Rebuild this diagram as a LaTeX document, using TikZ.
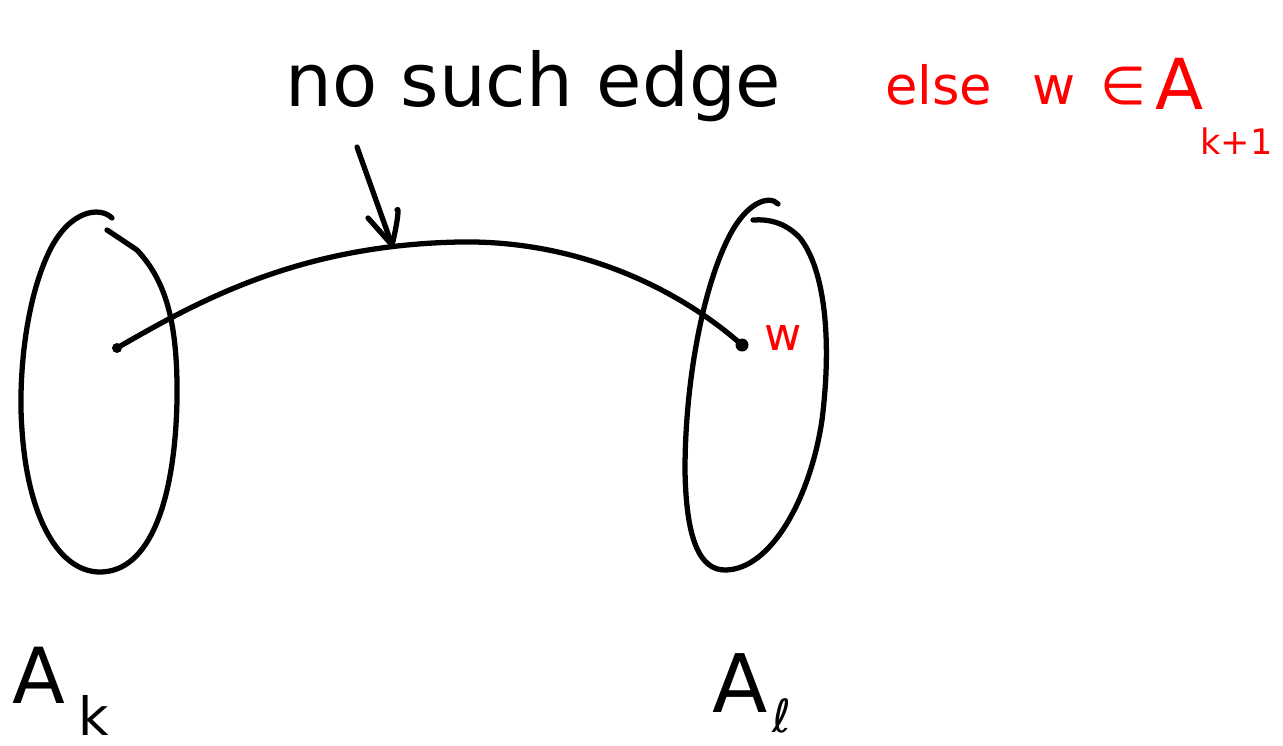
\documentclass[tikz,border=0pt]{standalone}
\usepackage{fontspec}
\setmainfont{DejaVu Sans}
\begin{document}
\begin{tikzpicture}[x=0.02cm,y=-0.02cm, line cap=round, line join=round,
  ink/.style={line width=3pt, draw=black},
  redlbl/.style={text=red, inner sep=0pt, font=\fontsize{30}{30}\selectfont},
  blklbl/.style={text=black, inner sep=0pt}]
\useasboundingbox (0,0) rectangle (1283,746);
% left set A_k
\draw[ink] (112,218) .. controls (100,206) and (70,210) .. (50,250)
  .. controls (25,300) and (18,380) .. (22,430)
  .. controls (28,520) and (60,572) .. (100,572)
  .. controls (150,572) and (175,500) .. (177,400)
  .. controls (178,320) and (165,280) .. (137,250)
  -- (107,230);
% right set A_l
\draw[ink] (778,204) .. controls (770,195) and (745,200) .. (725,245)
  .. controls (700,300) and (685,390) .. (685,470)
  .. controls (686,540) and (700,570) .. (725,570)
  .. controls (770,570) and (810,500) .. (822,420)
  .. controls (832,340) and (825,270) .. (800,238)
  .. controls (785,222) and (768,219) .. (753,220);
% vertices
\coordinate (u) at (117,348);
\coordinate (w) at (742,345);
\fill (u) circle (5);
\fill (w) circle (6.5);
% edge
\draw[ink] (u) .. controls (200,300) and (300,245) .. (460,242)
  .. controls (580,240) and (680,290) .. (w);
% arrow
\coordinate (tail) at (357,147);
\coordinate (head) at (392,245);
\draw[ink] (tail) -- (head);
\draw[ink] (368,218) -- (head) .. controls (396,230) and (400,205) .. (397,210);
% labels
\node[blklbl, anchor=base west, font=\fontsize{42}{42}\selectfont] (nse) at (285,107) {no such edge};
\node[redlbl, anchor=base west] (else) at (885,105) {else};
\node[redlbl, anchor=base west] (wa) at (1032,105) {w};
\node[redlbl, anchor=base west] (in) at (1100,105) {∈};
\node[redlbl, anchor=base west, font=\fontsize{40}{40}\selectfont] (A) at (1155,110) {A};
\node[redlbl, anchor=base west, font=\fontsize{20}{20}\selectfont] (sub) at (1200,155) {k+1};
\node[redlbl, anchor=base west, font=\fontsize{26}{26}\selectfont] (wl) at (764,350) {w};
\node[blklbl, anchor=base west, font=\fontsize{44}{44}\selectfont] (Ak) at (12,703) {A};
\node[blklbl, anchor=base west, font=\fontsize{30}{30}\selectfont] (k) at (78,735) {k};
\node[blklbl, anchor=base west, font=\fontsize{46}{46}\selectfont] (Al) at (712,712) {A};
\node[blklbl, anchor=base west, font=\fontsize{26}{26}\selectfont] (l) at (772,732) {ℓ};
\end{tikzpicture}
\end{document}
